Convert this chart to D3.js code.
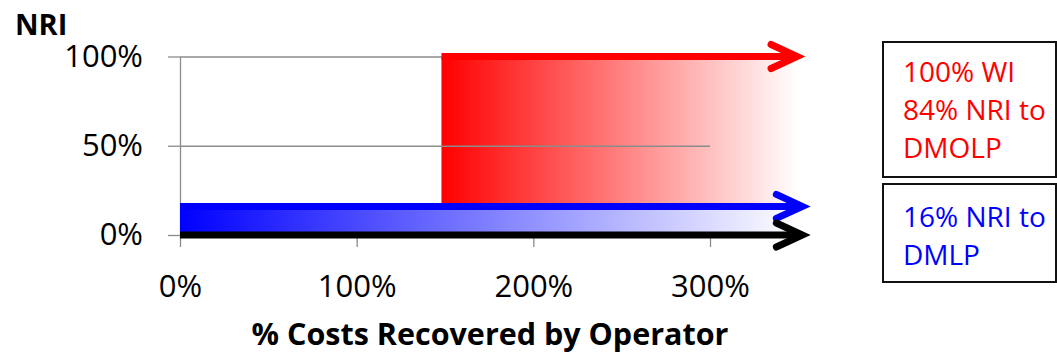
<!DOCTYPE html>
<html>
<head>
<meta charset="utf-8">
<script src="https://cdn.jsdelivr.net/npm/d3@7"></script>
<style>
  body { margin: 0; background: #fff; }
  svg text { font-family: "Open Sans", "Noto Sans", sans-serif; }
</style>
</head>
<body>
<svg id="chart" width="1057" height="354"></svg>
<script>
// ---- data ----
const xTickValues = [0, 100, 200, 300];          // % costs recovered
const yTickValues = [0, 50, 100];                // NRI
const xDomain = [0, 300];
const yDomain = [0, 100];

// arrows: DMOLP (100% WI line), DMLP (16% NRI line), zero baseline
const arrowNames  = ["DMOLP", "DMLP", "Baseline"];
const arrowLevels = [100, 16, 0];
const arrowStarts = [148, 0, 0];
const arrowEnds   = [354, 357, 357];

// shaded NRI bands (fading out to the right)
const bandNames   = ["DMOLP", "DMLP"];
const bandTops    = [100, 16];
const bandBottoms = [16, 0];
const bandStarts  = [148, 0];
const fadeEnd     = 350;

const legendDmolp = ["100% WI", "84% NRI to", "DMOLP"];
const legendDmlp  = ["16% NRI to", "DMLP"];

// ---- styling ----
const colors = { DMOLP: "#ff0000", DMLP: "#0000ff", Baseline: "#000000" };
const axisGray = "#8c8c8c";
const lineWidth = 7;
const tickFont = "31px";

const svg = d3.select("#chart");
const x = d3.scaleLinear().domain(xDomain).range([180, 710]);
const y = d3.scaleLinear().domain(yDomain).range([235, 56.5]);

// gradients
const defs = svg.append("defs");
bandNames.forEach((name, i) => {
  const g = defs.append("linearGradient")
    .attr("id", "fade-" + name)
    .attr("gradientUnits", "userSpaceOnUse")
    .attr("x1", x(bandStarts[i])).attr("x2", x(fadeEnd))
    .attr("y1", 0).attr("y2", 0);
  g.append("stop").attr("offset", 0).attr("stop-color", colors[name]);
  g.append("stop").attr("offset", 1).attr("stop-color", "#ffffff");
});

// x axis (ticks hang below the zero line)
const xAxis = svg.append("g")
  .attr("transform", `translate(0,${y(0)})`)
  .call(d3.axisBottom(x).tickValues(xTickValues).tickSize(12).tickSizeOuter(0)
    .tickFormat(d => d + "%"));
xAxis.selectAll("text")
  .attr("y", 62).attr("dy", null)
  .style("font-size", tickFont).attr("fill", "#000");

// y axis
const yAxis = svg.append("g")
  .attr("transform", `translate(${x(0)},0)`)
  .call(d3.axisLeft(y).tickValues(yTickValues).tickSize(12).tickSizeOuter(0)
    .tickFormat(d => d + "%"));
yAxis.selectAll("text")
  .attr("x", -37)
  .style("font-size", tickFont).attr("fill", "#000");

[xAxis, yAxis].forEach(a => {
  a.select(".domain").attr("stroke", axisGray).attr("stroke-width", 1.3);
  a.selectAll(".tick line").attr("stroke", axisGray).attr("stroke-width", 1.3);
});

// shaded bands
svg.append("g").selectAll("rect")
  .data(bandNames)
  .join("rect")
  .attr("x", (d, i) => x(bandStarts[i]))
  .attr("width", (d, i) => x(fadeEnd) - x(bandStarts[i]))
  .attr("y", (d, i) => y(bandTops[i]))
  .attr("height", (d, i) => y(bandBottoms[i]) - y(bandTops[i]))
  .attr("fill", d => `url(#fade-${d})`);

// horizontal gridlines
svg.append("g")
  .attr("transform", `translate(${x(0)},0)`)
  .call(d3.axisLeft(y).tickValues(yTickValues.filter(v => v > 0))
    .tickSize(-(x(xDomain[1]) - x(0))).tickFormat(""))
  .call(g => g.select(".domain").remove())
  .call(g => g.selectAll(".tick line").attr("stroke", axisGray).attr("stroke-width", 1.3));

// arrows with open chevron heads
const headLen = 26, headHalf = 12;
const miter = (lineWidth / 2) / Math.sin(Math.atan2(headHalf, headLen));
const arrows = svg.append("g").selectAll("g")
  .data(arrowNames)
  .join("g")
  .attr("stroke", d => colors[d])
  .attr("stroke-width", lineWidth)
  .attr("fill", "none");

arrows.append("line")
  .attr("x1", (d, i) => x(arrowStarts[i]))
  .attr("x2", (d, i) => x(arrowEnds[i]) - miter)
  .attr("y1", (d, i) => y(arrowLevels[i]))
  .attr("y2", (d, i) => y(arrowLevels[i]));

arrows.append("path")
  .attr("stroke-linecap", "round")
  .attr("stroke-linejoin", "miter")
  .attr("d", (d, i) => {
    const tx = x(arrowEnds[i]) - miter, ty = y(arrowLevels[i]);
    return `M${tx - headLen},${ty - headHalf}L${tx},${ty}L${tx - headLen},${ty + headHalf}`;
  });

// axis titles
svg.append("text")
  .attr("x", 15).attr("y", 35)
  .style("font-size", "29px").style("font-weight", "bold")
  .text("NRI");

svg.append("text")
  .attr("x", 490).attr("y", 345)
  .attr("text-anchor", "middle")
  .style("font-size", "30.5px").style("font-weight", "bold")
  .text("% Costs Recovered by Operator");

// legend boxes
const legendBoxes = [
  { lines: legendDmolp, color: colors.DMOLP, y: 42, h: 135, first: 82 },
  { lines: legendDmlp,  color: colors.DMLP,  y: 184, h: 98, first: 227 }
];
const lg = svg.append("g").selectAll("g").data(legendBoxes).join("g");
lg.append("rect")
  .attr("x", 883).attr("y", d => d.y)
  .attr("width", 173).attr("height", d => d.h)
  .attr("fill", "#fff").attr("stroke", "#111").attr("stroke-width", 2);
lg.each(function (d) {
  d3.select(this).selectAll("text")
    .data(d.lines)
    .join("text")
    .attr("x", 903)
    .attr("y", (t, j) => d.first + j * 37.8)
    .attr("fill", d.color)
    .style("font-size", "28px")
    .text(t => t);
});
</script>
</body>
</html>
